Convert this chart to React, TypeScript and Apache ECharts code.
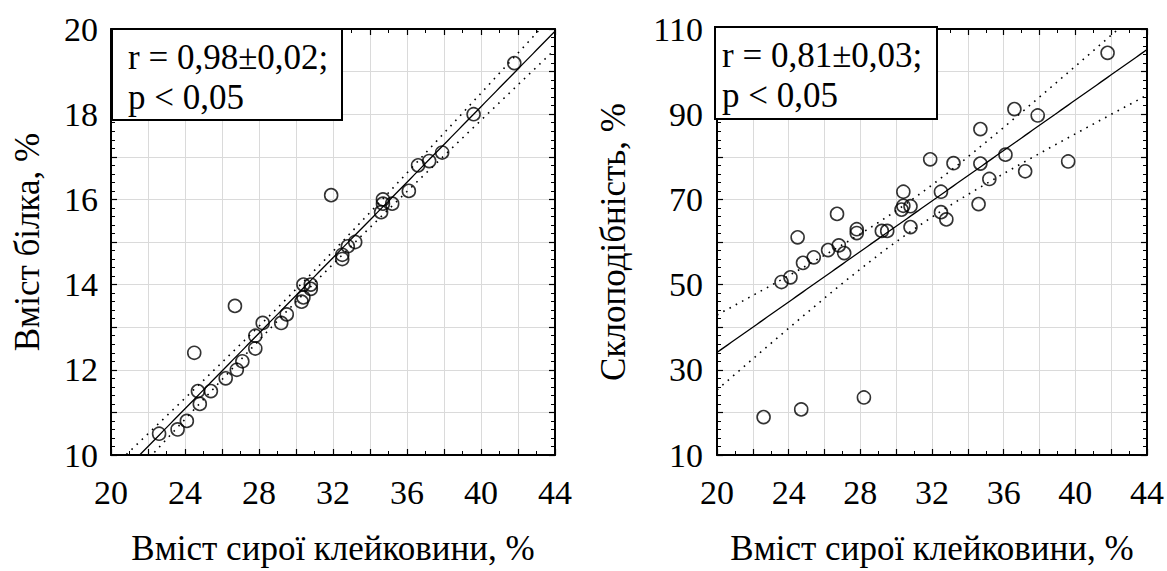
import React, { useEffect, useRef } from "react";
import * as echarts from "echarts";

const FONT = "Liberation Serif, Times New Roman, serif";

// Shared x values: raw gluten content, %
const GLUTEN_L = [22.6, 23.6, 24.1, 24.5, 24.7, 24.8, 25.4, 26.2, 26.7, 26.8, 27.1, 27.8, 27.8, 28.2, 29.2, 29.5, 30.3, 30.4, 30.4, 30.8, 30.8, 31.9, 32.5, 32.5, 32.8, 33.2, 34.6, 34.7, 34.7, 35.2, 36.1, 36.6, 37.2, 37.9, 39.6, 41.8];
// Protein content, %
const PROTEIN = [10.5, 10.6, 10.8, 12.4, 11.5, 11.2, 11.5, 11.8, 13.5, 12.0, 12.2, 12.5, 12.8, 13.1, 13.1, 13.3, 13.6, 13.7, 14.0, 14.0, 13.9, 16.1, 14.6, 14.7, 14.9, 15.0, 15.7, 16.0, 15.9, 15.9, 16.2, 16.8, 16.9, 17.1, 18.0, 19.2];

const GLUTEN_R = [22.6, 23.6, 24.1, 24.5, 24.7, 24.8, 25.4, 26.2, 26.7, 26.8, 27.1, 27.8, 27.8, 28.2, 29.2, 29.5, 30.3, 30.4, 30.4, 30.8, 30.8, 31.9, 32.5, 32.5, 32.8, 33.2, 34.6, 34.7, 34.7, 35.2, 36.1, 36.6, 37.2, 37.9, 39.6, 41.8];
// Vitreousness, %
const VITREOUS = [18.9, 50.6, 51.7, 61.1, 20.7, 55.1, 56.4, 58.1, 66.6, 59.2, 57.4, 62.1, 63.0, 23.5, 62.6, 62.6, 67.6, 68.5, 71.8, 68.4, 63.5, 79.4, 71.8, 67.0, 65.3, 78.5, 68.9, 86.5, 78.4, 74.8, 80.5, 91.2, 76.6, 89.7, 78.9, 104.4];

const X_TITLE = "Вміст сирої клейковини, %";
const Y_TITLE_L = "Вміст білка, %";
const Y_TITLE_R = "Склоподібність, %";
const STATS_L = ["r = 0,98±0,02;", "p < 0,05"];
const STATS_R = ["r = 0,81±0,03;", "p < 0,05"];

const X_MIN = 20;
const X_MAX = 44;
const T_95 = 2.032; // Student t, df = 34

function regression(xs: number[], ys: number[]) {
  const n = xs.length;
  const mx = xs.reduce((a, b) => a + b, 0) / n;
  const my = ys.reduce((a, b) => a + b, 0) / n;
  let sxx = 0, sxy = 0;
  for (let i = 0; i < n; i++) {
    sxx += (xs[i] - mx) ** 2;
    sxy += (xs[i] - mx) * (ys[i] - my);
  }
  const b = sxy / sxx;
  const a = my - b * mx;
  let sse = 0;
  for (let i = 0; i < n; i++) sse += (ys[i] - a - b * xs[i]) ** 2;
  const s = Math.sqrt(sse / (n - 2));
  const fit: number[][] = [];
  const up: number[][] = [];
  const lo: number[][] = [];
  for (let k = 0; k <= 120; k++) {
    const x = X_MIN + ((X_MAX - X_MIN) * k) / 120;
    const yh = a + b * x;
    const hw = T_95 * s * Math.sqrt(1 / n + (x - mx) ** 2 / sxx);
    fit.push([x, yh]);
    up.push([x, yh + hw]);
    lo.push([x, yh - hw]);
  }
  return { fit, up, lo };
}

function xAxis(gridIndex: number, position: string, main: boolean) {
  return {
    type: "value",
    gridIndex,
    position,
    min: X_MIN,
    max: X_MAX,
    interval: 2,
    axisLine: { show: true, onZero: false, lineStyle: { color: "#000", width: 2 } },
    axisTick: { show: true, inside: true, length: 6, lineStyle: { color: "#000", width: 1.2 } },
    minorTick: { show: true, splitNumber: 2, length: 4, lineStyle: { color: "#000", width: 1 } },
    splitLine: { show: main, lineStyle: { color: "#dadada", width: 1 } },
    axisLabel: main
      ? {
          show: true,
          margin: 20,
          color: "#000",
          fontFamily: FONT,
          fontSize: 34,
          formatter: (v: number) => (Math.round(v) % 4 === 0 ? String(v) : ""),
        }
      : { show: false },
    name: main ? X_TITLE : "",
    nameLocation: "middle",
    nameGap: 76,
    nameTextStyle: { color: "#000", fontFamily: FONT, fontSize: 35 },
  };
}

function yAxis(
  gridIndex: number,
  position: string,
  main: boolean,
  min: number,
  max: number,
  interval: number,
  labelEvery: number,
  title: string,
  nameGap: number,
  margin: number
) {
  return {
    type: "value",
    gridIndex,
    position,
    min,
    max,
    interval,
    axisLine: { show: true, onZero: false, lineStyle: { color: "#000", width: 2 } },
    axisTick: { show: true, inside: true, length: 6, lineStyle: { color: "#000", width: 1.2 } },
    minorTick: { show: true, splitNumber: 5, length: 4, lineStyle: { color: "#000", width: 1 } },
    splitLine: { show: main, lineStyle: { color: "#dadada", width: 1 } },
    axisLabel: main
      ? {
          show: true,
          margin,
          color: "#000",
          fontFamily: FONT,
          fontSize: 34,
          formatter: (v: number) =>
            Math.abs(((v - min) / labelEvery) - Math.round((v - min) / labelEvery)) < 1e-6 ? String(v) : "",
        }
      : { show: false },
    name: main ? title : "",
    nameLocation: "middle",
    nameGap,
    nameTextStyle: { color: "#000", fontFamily: FONT, fontSize: 35 },
  };
}

function statsBox(x: number, y: number, w: number, h: number, padL: number, lines: string[]) {
  return {
    type: "group",
    z: 100,
    children: [
      {
        type: "rect",
        shape: { x, y, width: w, height: h },
        style: { fill: "#fff", stroke: "#000", lineWidth: 2 },
        z: 100,
      },
      ...lines.map((t, i) => ({
        type: "text",
        z: 101,
        style: {
          text: t,
          x: x + padL,
          y: y + 28 + i * 40,
          fill: "#000",
          fontFamily: FONT,
          fontSize: 35,
          align: "left",
          verticalAlign: "middle",
        },
      })),
    ],
  };
}

export default function App() {
  const ref = useRef<HTMLDivElement>(null);

  useEffect(() => {
    if (!ref.current) return;
    const chart = echarts.init(ref.current, null, { renderer: "svg" });

    const regL = regression(GLUTEN_L, PROTEIN);
    const regR = regression(GLUTEN_R, VITREOUS);

    const scatterStyle = {
      type: "scatter",
      symbol: "circle",
      symbolSize: 13,
      itemStyle: { color: "rgba(0,0,0,0)", borderColor: "#000", borderWidth: 1.6 },
      z: 10,
    };
    const fitStyle = {
      type: "line",
      showSymbol: false,
      symbol: "none",
      clip: true,
      lineStyle: { color: "#000", width: 1.3 },
      z: 5,
    };
    const bandStyle = {
      type: "line",
      showSymbol: false,
      symbol: "none",
      clip: true,
      lineStyle: { color: "#000", width: 1.6, type: [1.6, 5.5] },
      z: 5,
    };

    chart.setOption({
      animation: false,
      backgroundColor: "#fff",
      textStyle: { fontFamily: FONT },
      grid: [
        { left: 111, top: 29, width: 444, height: 435 },
        { left: 717, top: 29, width: 430, height: 435 },
      ],
      xAxis: [
        xAxis(0, "bottom", true),
        xAxis(0, "top", false),
        xAxis(1, "bottom", true),
        xAxis(1, "top", false),
      ],
      yAxis: [
        yAxis(0, "left", true, 10, 20, 1, 2, Y_TITLE_L, 66, 13),
        yAxis(0, "right", false, 10, 20, 1, 2, "", 0, 0),
        yAxis(1, "left", true, 10, 110, 10, 20, Y_TITLE_R, 86, 14),
        yAxis(1, "right", false, 10, 110, 10, 20, "", 0, 0),
      ],
      series: [
        { ...bandStyle, xAxisIndex: 0, yAxisIndex: 0, data: regL.up },
        { ...bandStyle, xAxisIndex: 0, yAxisIndex: 0, data: regL.lo },
        { ...fitStyle, xAxisIndex: 0, yAxisIndex: 0, data: regL.fit },
        { ...scatterStyle, xAxisIndex: 0, yAxisIndex: 0, data: GLUTEN_L.map((x, i) => [x, PROTEIN[i]]) },
        { ...bandStyle, xAxisIndex: 2, yAxisIndex: 2, data: regR.up },
        { ...bandStyle, xAxisIndex: 2, yAxisIndex: 2, data: regR.lo },
        { ...fitStyle, xAxisIndex: 2, yAxisIndex: 2, data: regR.fit },
        { ...scatterStyle, xAxisIndex: 2, yAxisIndex: 2, data: GLUTEN_R.map((x, i) => [x, VITREOUS[i]]) },
      ],
      graphic: [
        statsBox(112, 29, 230, 91, 16, STATS_L),
        statsBox(715, 27, 222, 92, 7, STATS_R),
      ],
    });

    return () => chart.dispose();
  }, []);

  return (
    <div
      ref={ref}
      style={{ position: "fixed", left: 0, top: 0, width: 1167, height: 571, background: "#fff" }}
    />
  );
}
